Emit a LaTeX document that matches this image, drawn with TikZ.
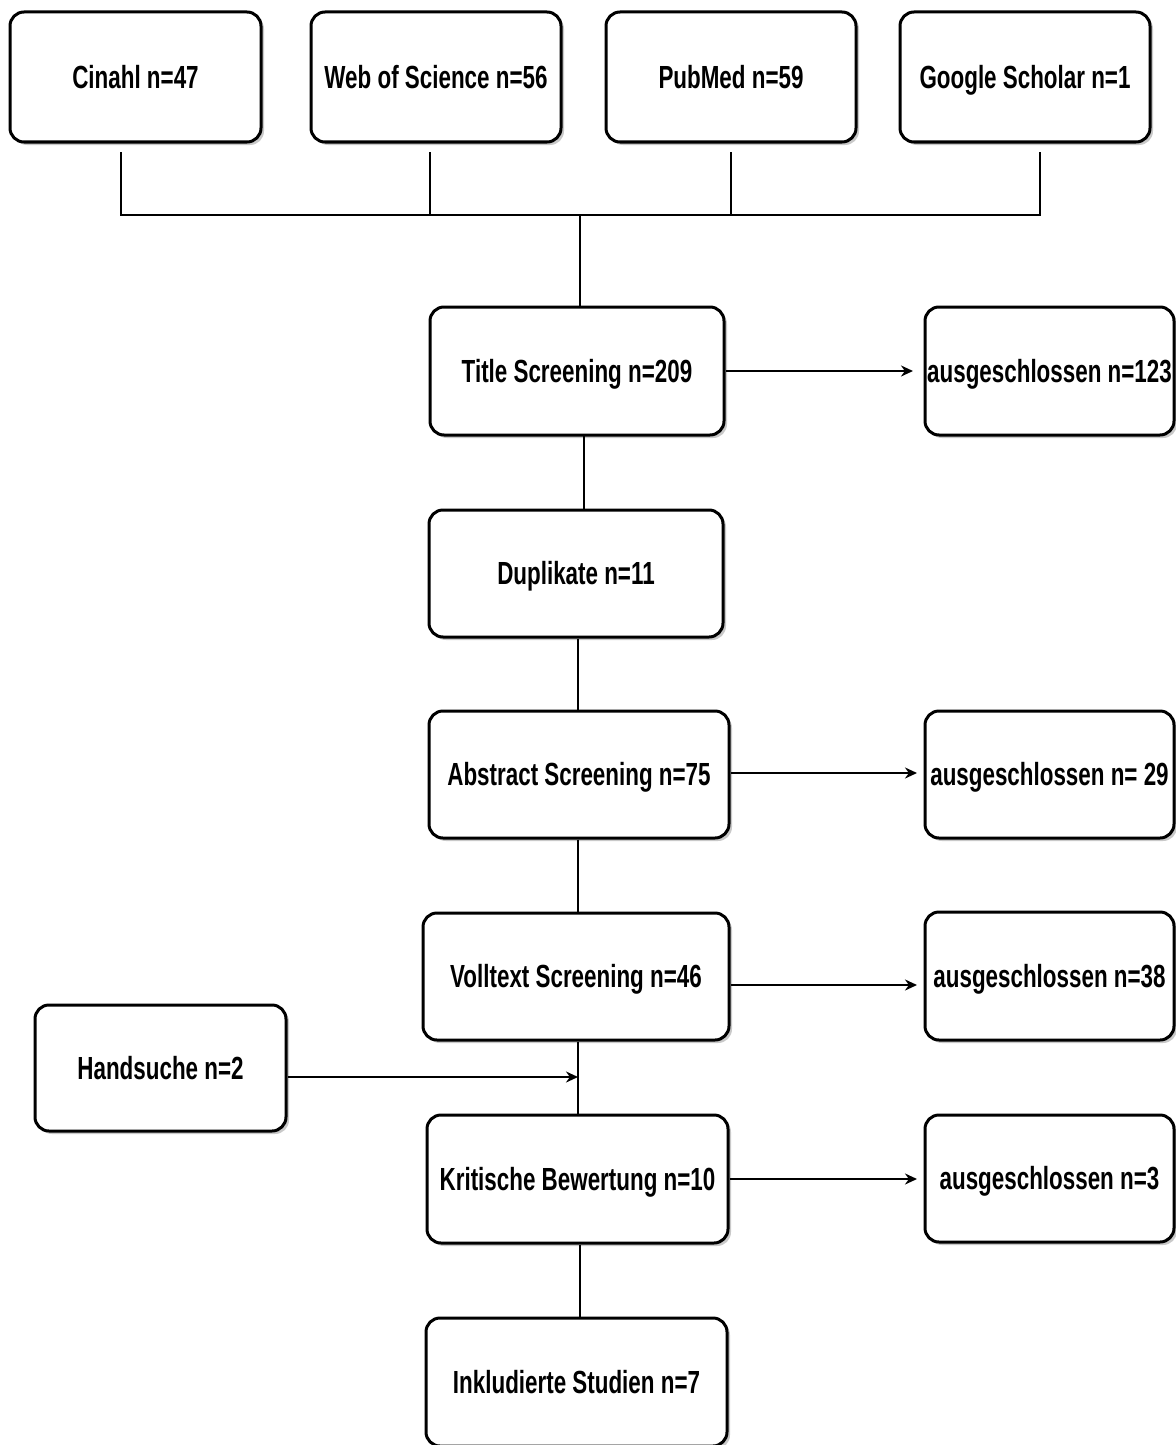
\documentclass[tikz,border=0pt]{standalone}
\usepackage{fontspec}
\newfontfamily\boxfont{Liberation Sans}[FakeStretch=0.7]
\usetikzlibrary{arrows.meta,shadows}
\begin{document}
\begin{tikzpicture}[x=0.5pt,y=-0.5pt,
  box/.style={draw=black, line width=1.5pt, rounded corners=7pt, fill=white,
    drop shadow={shadow xshift=1.5pt, shadow yshift=-1.5pt, fill=black!35, opacity=0.6},
    inner sep=0pt, align=center, text height=11.4pt, text depth=0pt,
    font=\boxfont\bfseries\fontsize{16}{19}\selectfont},
  conn/.style={line width=1pt, draw=black},
  arr/.style={conn, -{Stealth[length=6pt,width=5.5pt]}}]
\useasboundingbox (0,0) rectangle (1176,1445);
\fill[white] (0,0) rectangle (1176,1445);
% top sources
\node[box, minimum width=125.5pt, minimum height=65pt] (cin) at (135.5,77) {Cinahl n=47};
\node[box, minimum width=125pt, minimum height=65pt] (wos) at (436,77) {Web of Science n=56};
\node[box, minimum width=125pt, minimum height=65pt] (pub) at (731,77) {PubMed n=59};
\node[box, minimum width=125pt, minimum height=65pt] (goo) at (1025,77) {Google Scholar n=1};
% main column
\node[box, minimum width=147pt, minimum height=64pt] (title) at (577,371) {Title Screening n=209};
\node[box, minimum width=147pt, minimum height=63.5pt] (dup) at (576,573.5) {Duplikate n=11};
\node[box, minimum width=150pt, minimum height=63.5pt] (abs) at (579,774.5) {Abstract Screening n=75};
\node[box, minimum width=153pt, minimum height=63.5pt] (voll) at (576,976.5) {Volltext Screening n=46};
\node[box, minimum width=150.5pt, minimum height=64pt] (krit) at (577.5,1179) {Kritische Bewertung n=10};
\node[box, minimum width=150.5pt, minimum height=64pt] (inkl) at (576.5,1382) {Inkludierte Studien n=7};
% side boxes
\node[box, minimum width=124.5pt, minimum height=64pt] (ex1) at (1049.5,371) {ausgeschlossen n=123};
\node[box, minimum width=124.5pt, minimum height=63.5pt] (ex2) at (1049.5,774.5) {ausgeschlossen n= 29};
\node[box, minimum width=124.5pt, minimum height=64pt] (ex3) at (1049.5,976) {ausgeschlossen n=38};
\node[box, minimum width=124.5pt, minimum height=63.5pt] (ex4) at (1049.5,1178.5) {ausgeschlossen n=3};
\node[box, minimum width=125.5pt, minimum height=63pt] (hand) at (160.5,1068) {Handsuche n=2};
% merge of sources
\coordinate (c1) at (121,152);
\coordinate (c2) at (430,152);
\coordinate (c3) at (731,152);
\coordinate (c4) at (1040,152);
\coordinate (j) at (580,215);
\draw[conn] (c1) |- (c4 |- j) -- (c4);
\draw[conn] (c2) -- (c2 |- j);
\draw[conn] (c3) -- (c3 |- j);
\draw[conn] (j) -- (j |- title.north);
% main flow
\draw[conn] (584,435) -- (584,510);
\draw[conn] (dup.south -| 578,0) -- (abs.north -| 578,0);
\draw[conn] (abs.south -| 578,0) -- (voll.north -| 578,0);
\coordinate (vk) at (578,1077);
\draw[conn] (voll.south -| vk) -- (krit.north -| vk);
\draw[conn] (krit.south -| 580,0) -- (inkl.north -| 580,0);
% exclusions
\draw[arr] (title.east) -- (913,371);
\draw[arr] (abs.east |- 0,773) -- (917,773);
\draw[arr] (voll.east |- 0,985) -- (917,985);
\draw[arr] (krit.east) -- (917,1179);
\draw[arr] (hand.east |- vk) -- (vk);
\end{tikzpicture}
\end{document}
